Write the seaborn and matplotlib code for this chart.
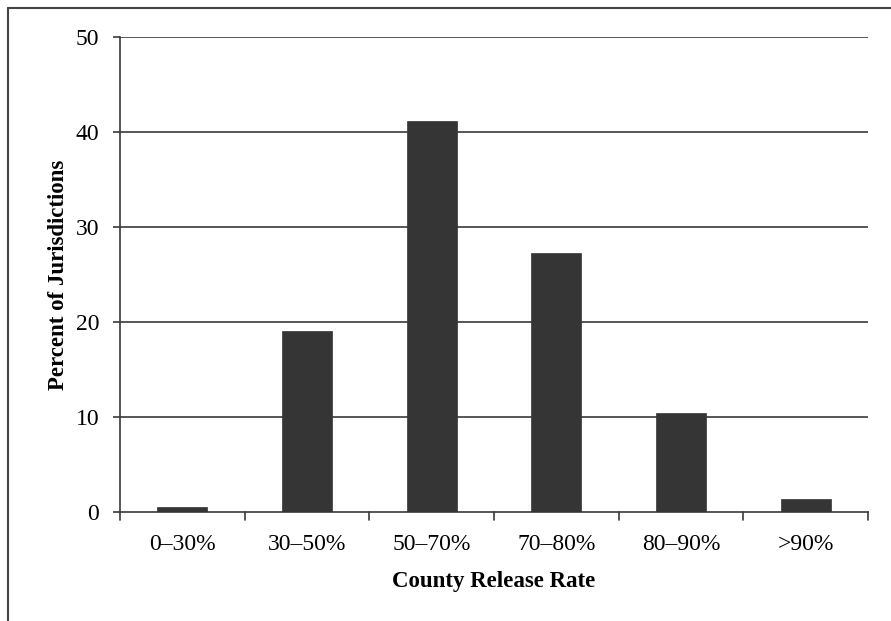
import matplotlib
matplotlib.use("Agg")
import matplotlib.pyplot as plt
import seaborn as sns
import pandas as pd
from matplotlib.lines import Line2D

categories = ["0–30%", "30–50%", "50–70%", "70–80%", "80–90%", ">90%"]
values = [0.5, 19.1, 41.2, 27.3, 10.4, 1.4]
yticks = [0, 10, 20, 30, 40, 50]

sns.set_theme(style="white")
plt.rcParams["font.family"] = ["Liberation Serif", "DejaVu Serif"]
plt.rcParams["text.color"] = "black"
plt.rcParams["axes.labelcolor"] = "black"
plt.rcParams["xtick.color"] = "black"
plt.rcParams["ytick.color"] = "black"

W, H = 891, 621
fig = plt.figure(figsize=(W / 100, H / 100), dpi=100)
left, right, top, bottom = 120, 868, 37, 512
ax = fig.add_axes([left / W, 1 - bottom / H, (right - left) / W, (bottom - top) / H])

df = pd.DataFrame({"cat": categories, "val": values})
sns.barplot(data=df, x="cat", y="val", color="#353535", width=0.4, ax=ax,
            saturation=1, edgecolor="#353535", linewidth=0.5, zorder=3)

ax.set_ylim(0, 50)
ax.set_xlim(-0.5, len(categories) - 0.5)
ax.set_yticks(yticks)
ax.set_yticklabels([str(t) for t in yticks], fontsize=17)
for y in yticks[1:]:
    ax.axhline(y, color="#3a3a3a", lw=1.2, zorder=1)

ax.set_xticks(range(len(categories)))
ax.set_xticklabels(categories, fontsize=17)
ax.tick_params(axis="x", length=0, pad=16)
ax.tick_params(axis="y", left=True, length=5, width=1.2, color="#3a3a3a", pad=10)
# category boundary ticks
for b in [i - 0.5 for i in range(len(categories) + 1)]:
    ax.plot([b, b], [0, -0.8], color="#3a3a3a", lw=1.2, clip_on=False, zorder=4)

for s in ["top", "right"]:
    ax.spines[s].set_visible(False)
for s in ["left", "bottom"]:
    ax.spines[s].set_color("#3a3a3a")
    ax.spines[s].set_linewidth(1.2)

ax.set_xlabel("County Release Rate", fontsize=16.5, fontweight="bold", labelpad=11)
ax.set_ylabel("Percent of Jurisdictions", fontsize=16.5, fontweight="bold", labelpad=5)

# figure border (top and left visible)
fig.add_artist(Line2D([8 / W, 8 / W], [0, 1 - 8 / H], color="#444444", lw=1.5, transform=fig.transFigure))
fig.add_artist(Line2D([8 / W, 1], [1 - 8 / H, 1 - 8 / H], color="#444444", lw=1.5, transform=fig.transFigure))

fig.savefig("out.png", dpi=100)
